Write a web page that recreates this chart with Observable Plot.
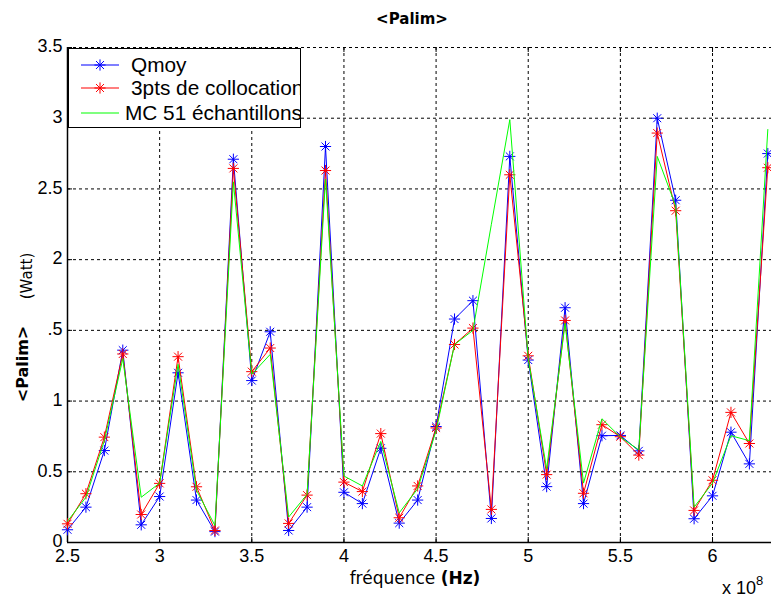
<!DOCTYPE html>
<html><head><meta charset="utf-8">
<script src="https://cdn.jsdelivr.net/npm/d3@7"></script>
<script src="https://cdn.jsdelivr.net/npm/@observablehq/plot@0.6"></script>
<style>
body{margin:0;background:#fff;}
#wrap{position:relative;width:771px;height:601px;overflow:hidden;font-family:"Liberation Sans",Arial,sans-serif;background:#fff;}
.abs{position:absolute;white-space:nowrap;color:#000;line-height:1;}
#legend{position:absolute;left:68px;top:48px;width:231px;height:78px;border:1.5px solid #000;background:#fff;overflow:hidden;}
#legend .row{position:absolute;left:0;height:24px;white-space:nowrap;font-size:20.8px;line-height:24px;}
#legend svg{position:absolute;left:10px;top:2px;}
#legend span{position:absolute;top:0;}
</style></head><body>
<div id="wrap">
  <div id="chart"></div>
  <div class="abs" style="left:412px;top:19px;transform:translate(-50%,-50%);font:bold 15px 'DejaVu Sans';">&lt;Palim&gt;</div>
  <div class="abs" style="left:22px;top:364px;transform:translate(-50%,-50%) rotate(-90deg);font:bold 16px 'DejaVu Sans';">&lt;Palim&gt;</div>
  <div class="abs" style="left:27px;top:276px;transform:translate(-50%,-50%) rotate(-90deg);font:15px 'DejaVu Sans';">(Watt)</div>
  <div class="abs" style="left:415px;top:578px;transform:translate(-50%,-50%);font:17px 'DejaVu Sans';">fréquence <b>(Hz)</b></div>
  <div class="abs" style="left:722px;top:579px;font-size:18px;">x 10<span style="font-size:13px;position:relative;top:-9px;">8</span></div>
  <div id="legend"></div>
</div>
<script>
const freq   = [2.5,2.6,2.7,2.8,2.9,3.0,3.1,3.2,3.3,3.4,3.5,3.6,3.7,3.8,3.9,4.0,4.1,4.2,4.3,4.4,4.5,4.6,4.7,4.8,4.9,5.0,5.1,5.2,5.3,5.4,5.5,5.6,5.7,5.8,5.9,6.0,6.1,6.2,6.3];
const qmoy   = [0.09,0.25,0.65,1.36,0.125,0.325,1.20,0.30,0.077,2.71,1.145,1.49,0.085,0.25,2.80,0.355,0.275,0.666,0.137,0.30,0.82,1.58,1.71,0.17,2.73,1.29,0.395,1.66,0.275,0.755,0.757,0.648,3.00,2.42,0.168,0.33,0.78,0.556,2.75];
const colloc = [0.132,0.345,0.745,1.333,0.198,0.418,1.314,0.394,0.085,2.645,1.208,1.375,0.135,0.335,2.63,0.427,0.36,0.77,0.175,0.40,0.81,1.40,1.516,0.234,2.60,1.32,0.48,1.57,0.348,0.833,0.748,0.618,2.895,2.346,0.227,0.44,0.92,0.70,2.65];
const mc51   = [0.15,0.32,0.72,1.30,0.32,0.42,1.26,0.37,0.12,2.55,1.19,1.33,0.18,0.34,2.57,0.47,0.40,0.715,0.21,0.38,0.79,1.40,1.50,2.25,2.99,1.30,0.52,1.55,0.42,0.875,0.745,0.655,2.73,2.38,0.25,0.42,0.755,0.72,2.92];
const xTicks = [2.5,3,3.5,4,4.5,5,5.5,6];
const xTickLabels = ["2.5","3","3.5","4","4.5","5","5.5","6"];
const yTicks = [0,0.5,1,1.5,2,2.5,3,3.5];
const yTickLabels = ["0","0.5","1",".5","2","2.5","3","3.5"];
const seriesNames = ["Qmoy","3pts de collocation","MC 51 échantillons"];
const seriesColors = ["#0000ff","#ff0000","#00ff00"];
const xDomain = [2.5, 6.32];
const yDomain = [0, 3.5];

const rows = freq.map((f,i)=>({f, q:qmoy[i], c:colloc[i], m:mc51[i]}));
const W=771,H=601,mL=67,mR=0,mT=47,mB=59;
const kx=(xDomain[1]-xDomain[0])/(W-mL-mR), ky=(yDomain[1]-yDomain[0])/(H-mT-mB);
const tl=5, rs=3.7;

function starMarks(key,color){
  return [
    Plot.dot(rows,{x:"f",y:key,symbol:"plus",r:rs,stroke:color,strokeWidth:1}),
    Plot.dot(rows,{x:"f",y:key,symbol:"times",r:rs,stroke:color,strokeWidth:1})
  ];
}

const chart = Plot.plot({
  width:W,height:H,marginLeft:mL,marginRight:mR,marginTop:mT,marginBottom:mB,
  x:{domain:xDomain},
  y:{domain:yDomain},
  style:{fontFamily:"Liberation Sans, Arial, sans-serif",fontSize:"18px",color:"#000",background:"#fff",overflow:"visible"},
  marks:[
    Plot.ruleX(xTicks.filter(d=>d>xDomain[0]),{stroke:"#000",strokeDasharray:"3,3",strokeWidth:1}),
    Plot.ruleY(yTicks.filter(d=>d>yDomain[0]),{stroke:"#000",strokeDasharray:"3,3",strokeWidth:1}),
    Plot.ruleX(xTicks,{y1:0,y2:tl*ky,stroke:"#000"}),
    Plot.ruleX(xTicks,{y1:3.5-tl*ky,y2:3.5,stroke:"#000"}),
    Plot.ruleY(yTicks,{x1:2.5,x2:2.5+tl*kx,stroke:"#000"}),
    Plot.ruleX([xDomain[0]],{stroke:"#000",strokeWidth:1.5}),
    Plot.ruleY([yDomain[0]],{stroke:"#000",strokeWidth:1.5}),
    Plot.axisX(xTicks,{tickSize:0,tickPadding:7,label:null,tickFormat:d=>xTickLabels[xTicks.indexOf(d)]}),
    Plot.axisY(yTicks,{tickSize:0,tickPadding:5,label:null,dy:-1,tickFormat:d=>yTickLabels[yTicks.indexOf(d)]}),
    Plot.line(rows,{x:"f",y:"q",stroke:seriesColors[0],strokeWidth:1}),
    ...starMarks("q",seriesColors[0]),
    Plot.line(rows,{x:"f",y:"c",stroke:seriesColors[1],strokeWidth:1}),
    ...starMarks("c",seriesColors[1]),
    Plot.line(rows,{x:"f",y:"m",stroke:seriesColors[2],strokeWidth:1})
  ]
});
document.getElementById("chart").appendChild(chart);

// legend
const legend=document.getElementById("legend");
const rowTops=[4,27,52];
const textLefts=[62,62,56];
seriesNames.forEach((name,i)=>{
  const r=document.createElement("div");
  r.className="row"; r.style.top=rowTops[i]+"px"; r.style.width="400px";
  const s=d3.create("svg").attr("width",42).attr("height",20);
  s.append("line").attr("x1",2).attr("x2",40).attr("y1",10).attr("y2",10).attr("stroke",seriesColors[i]).attr("stroke-width",1.2);
  if(i<2){
    s.append("path").attr("d",d3.symbol(d3.symbolPlus,Math.PI*rs*rs)()).attr("transform","translate(21,10)").attr("stroke",seriesColors[i]).attr("fill","none");
    s.append("path").attr("d",d3.symbol(d3.symbolTimes,Math.PI*rs*rs)()).attr("transform","translate(21,10)").attr("stroke",seriesColors[i]).attr("fill","none");
  }
  r.appendChild(s.node());
  const t=document.createElement("span"); t.style.left=textLefts[i]+"px"; t.textContent=name;
  r.appendChild(t);
  legend.appendChild(r);
});
</script>
</body></html>
